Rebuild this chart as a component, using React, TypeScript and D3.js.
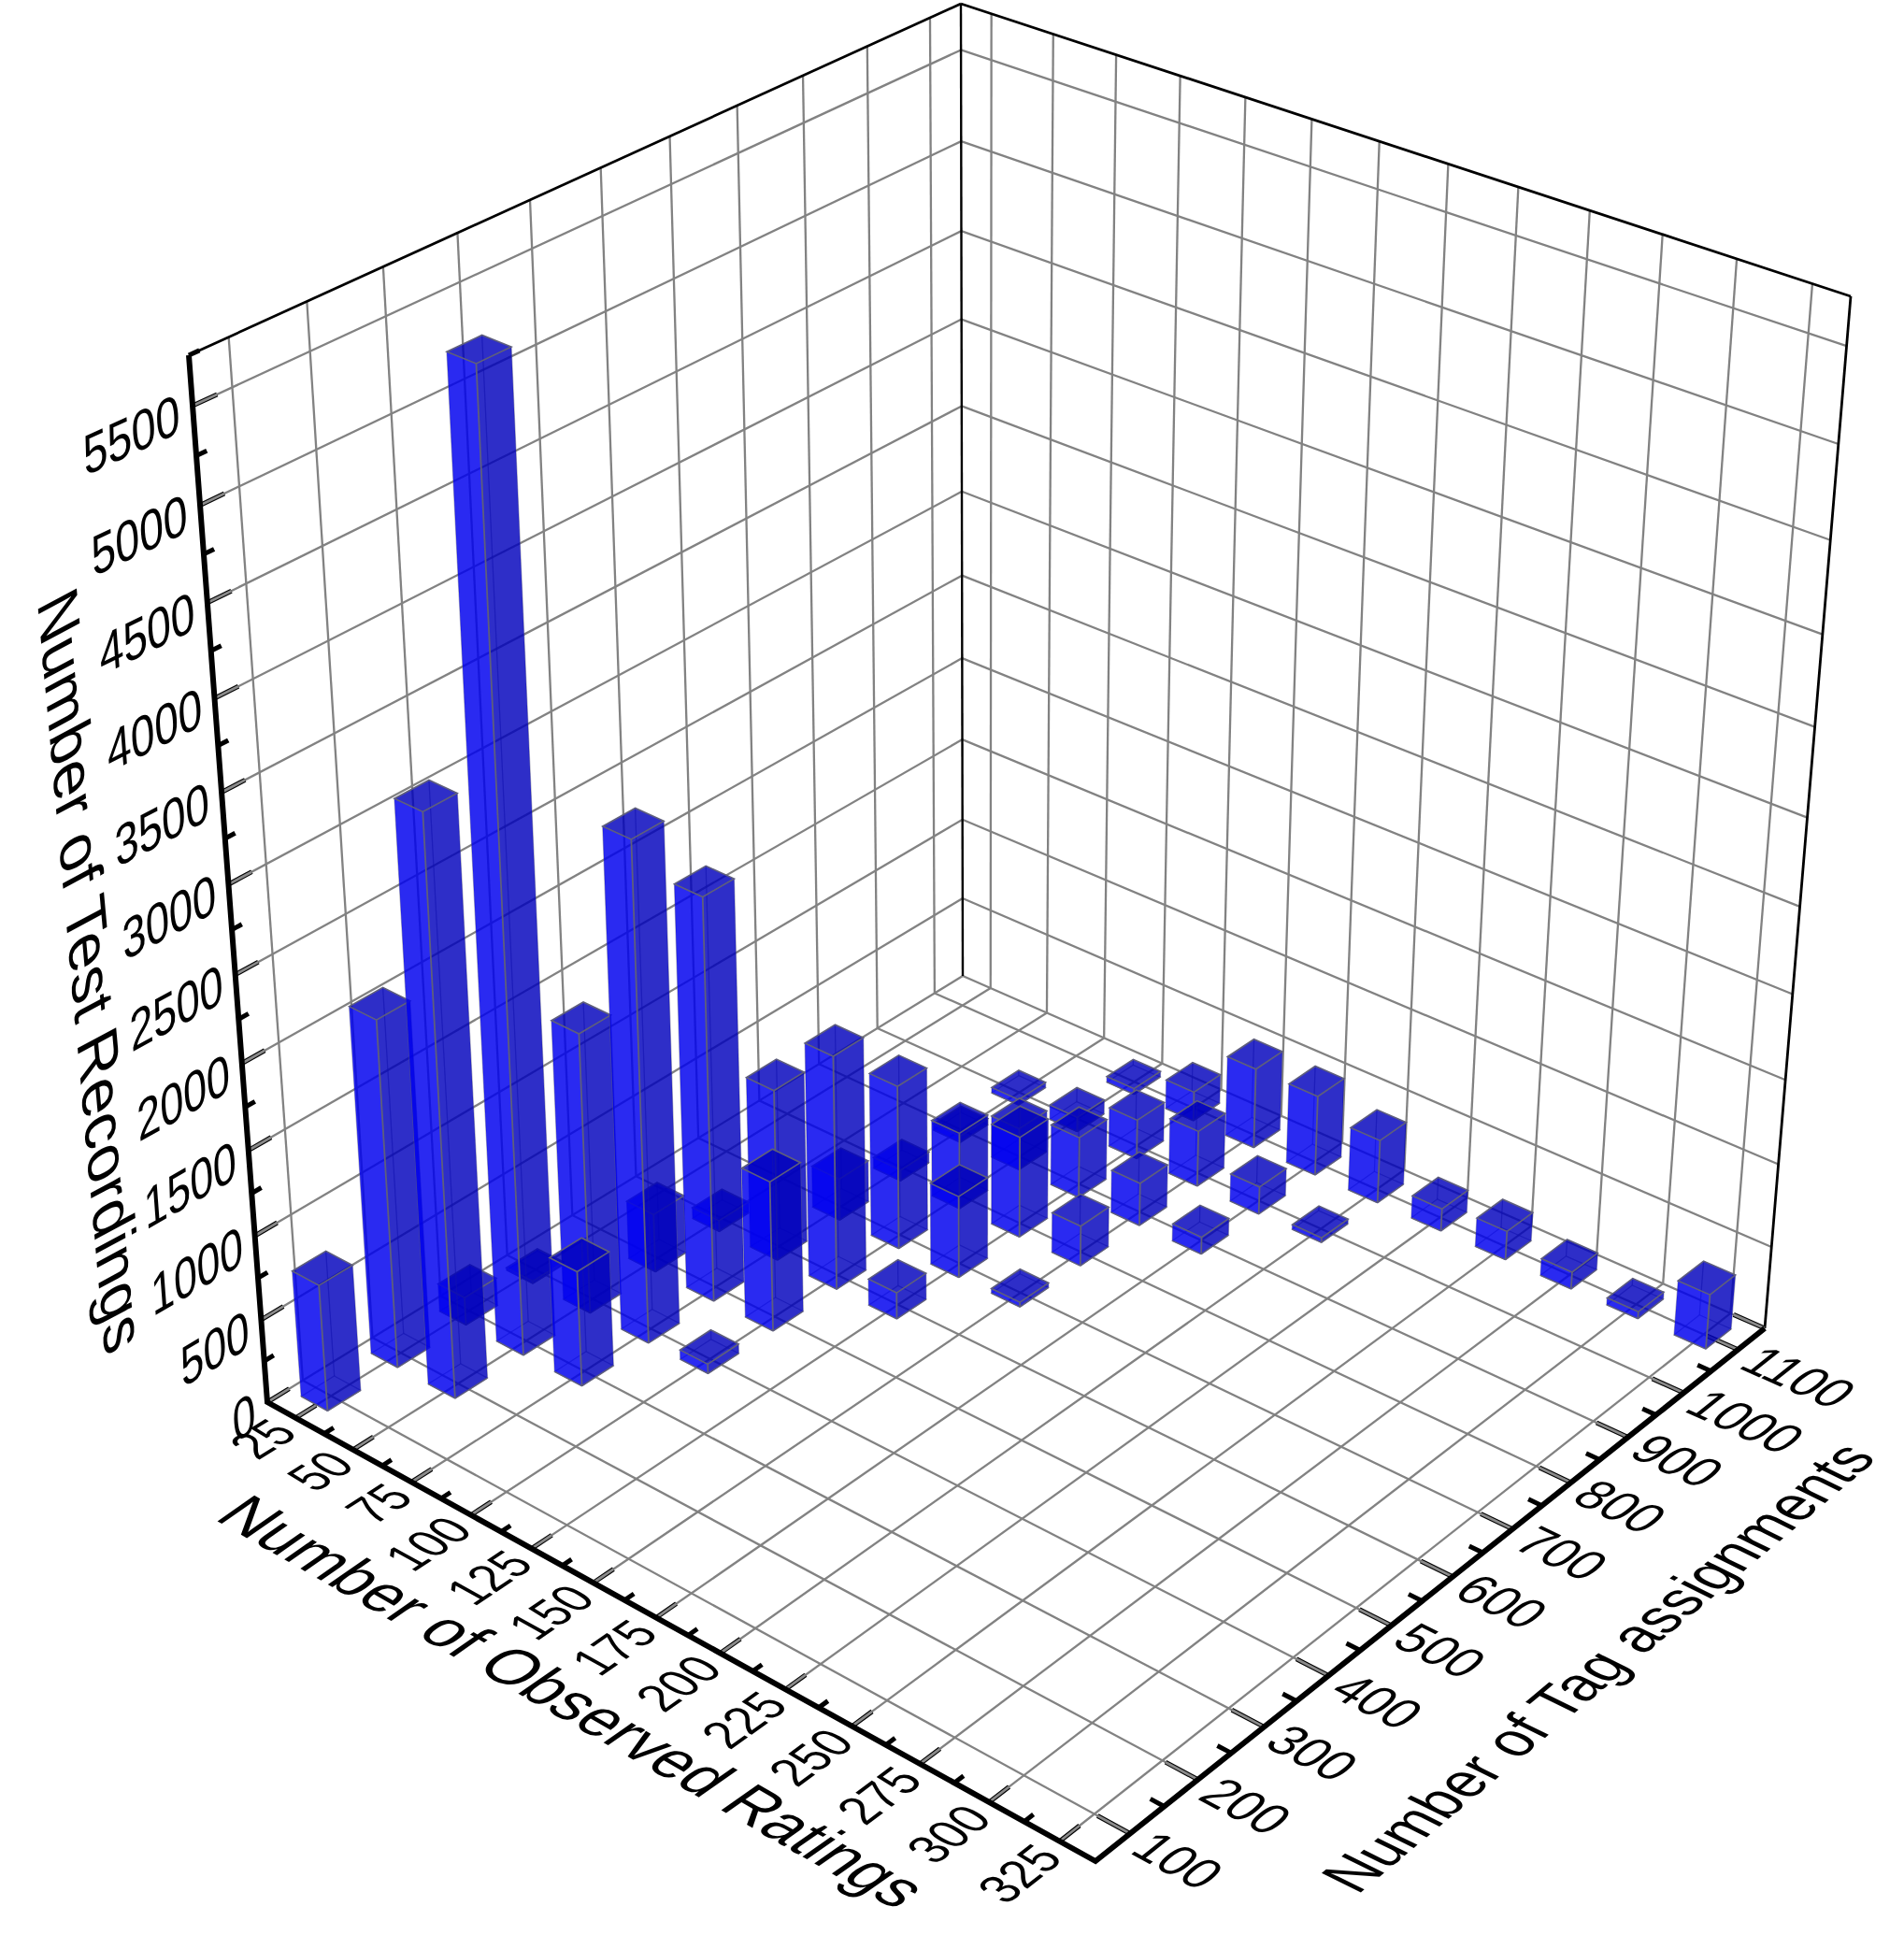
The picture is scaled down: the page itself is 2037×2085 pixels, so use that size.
import React from 'react';
import * as d3 from 'd3';

// bars
const barRatings = [25, 25, 25, 25, 50, 50, 50, 50, 50, 75, 75, 75, 75, 75, 75, 75, 75,
  100, 100, 100, 100, 100, 100, 100, 100, 125, 125, 125, 125, 125, 125,
  150, 150, 150, 150, 150, 175, 175, 175, 200, 200, 225, 250, 275, 300, 325];
const barTags = [100, 200, 300, 400, 200, 300, 400, 500, 600, 300, 400, 500, 600, 700, 800, 900, 1000,
  400, 500, 600, 700, 800, 900, 1000, 1100, 600, 700, 800, 900, 1000, 1100,
  700, 800, 900, 1000, 1100, 900, 1000, 1100, 1000, 1100, 1100, 1100, 1100, 1100, 1100];
const barCounts = [757, 2059, 168, 14, 3377, 5515, 1679, 354, 67, 692, 2948, 2404, 1039, 255, 67, 40, 34,
  58, 907, 1413, 996, 470, 258, 90, 36, 161, 499, 617, 373, 242, 181,
  29, 246, 263, 343, 494, 105, 170, 492, 29, 389, 138, 176, 104, 43, 333];

const ratingTicks = d3.range(25, 326, 25);
const tagTicks = d3.range(100, 1101, 100);
const countTicks = d3.range(0, 5501, 500);

const ratingTitle = 'Number of Observed Ratings';
const tagTitle = 'Number of Tag assignments';
const countTitle = 'Number of Test Recordings';

const uScale = d3.scaleLinear().domain([12.5, 337.5]).range([0, 1]);
const vScale = d3.scaleLinear().domain([50, 1150]).range([0, 1]);
const wScale = d3.scaleLinear().domain([0, 5750]).range([0, 1]);

type Pt = [number, number];
type P3 = [number, number, number];

// where the corners of the box land on the page
const floorCorners: Pt[] = [[286, 1500], [1172, 1991], [1888, 1421], [1030, 1044]];
const topCorners: { at: Pt; xy: Pt }[] = [
  { at: [0, 0], xy: [202, 380] },
  { at: [0, 1], xy: [1028, 4] },
  { at: [1, 1], xy: [1980, 317] },
];

// perspective camera fitted from the corners
function fitCamera() {
  const [[x0, y0], [x1, y1], [x2, y2], [x3, y3]] = floorCorners;
  const dx1 = x1 - x2, dx2 = x3 - x2, sx = x0 - x1 + x2 - x3;
  const dy1 = y1 - y2, dy2 = y3 - y2, sy = y0 - y1 + y2 - y3;
  const det = dx1 * dy2 - dx2 * dy1;
  const g = (sx * dy2 - dx2 * sy) / det;
  const h = (dx1 * sy - sx * dy1) / det;
  const a = x1 - x0 + g * x1, b = x3 - x0 + h * x3;
  const d = y1 - y0 + g * y1, e = y3 - y0 + h * y3;
  const rows = topCorners.map(({ at: [s, t], xy: [X, Y] }) => {
    const W = g * s + h * t + 1;
    return { X, Y, ax: X * W - (a * s + b * t + x0), ay: Y * W - (d * s + e * t + y0) };
  });
  const mX = d3.mean(rows, r => r.X)!, mY = d3.mean(rows, r => r.Y)!;
  const mAx = d3.mean(rows, r => r.ax)!, mAy = d3.mean(rows, r => r.ay)!;
  const r = -d3.sum(rows, o => (o.X - mX) * (o.ax - mAx) + (o.Y - mY) * (o.ay - mAy)) /
    d3.sum(rows, o => (o.X - mX) ** 2 + (o.Y - mY) ** 2);
  const p = mAx + mX * r, q = mAy + mY * r;
  const raw = ([s, t, w]: P3): Pt => {
    const W = g * s + h * t + r * w + 1;
    return [(a * s + b * t + p * w + x0) / W, (d * s + e * t + q * w + y0) / W];
  };
  // what is left over at the three top corners is spread across the box
  const miss = topCorners.map(({ at: [s, t], xy }) => {
    const q0 = raw([s, t, 1]);
    return [xy[0] - q0[0], xy[1] - q0[1]];
  });
  return ([s, t, w]: P3): Pt => {
    const q0 = raw([s, t, w]);
    const fix = (k: number) => miss[0][k] + s * (miss[2][k] - miss[1][k]) + t * (miss[1][k] - miss[0][k]);
    return [q0[0] + w * fix(0), q0[1] + w * fix(1)];
  };
}
const project = fitCamera();

const poly = d3.line();
const face = (pts: P3[]) => poly(pts.map(project))! + 'Z';
const seg = (a: P3, b: P3) => poly([project(a), project(b)])!;

const GRID = '#828282';
const FONT = "'Liberation Sans', Arial, sans-serif";

function unit(a: P3, dir: P3): Pt {
  const eps = 0.01;
  const p0 = project(a);
  const p1 = project([a[0] + dir[0] * eps, a[1] + dir[1] * eps, a[2] + dir[2] * eps]);
  const len = Math.hypot(p1[0] - p0[0], p1[1] - p0[1]);
  return [(p1[0] - p0[0]) / len, (p1[1] - p0[1]) / len];
}

// text lying in one of the box planes
const PlaneText = ({ text, at, xDir, upDir, emX, emY, anchor, dx = 0, dy = 36 }: {
  text: string; at: P3; xDir: P3; upDir: P3; emX: number; emY: number; anchor: string; dx?: number; dy?: number;
}) => {
  const [px, py] = project(at);
  const e1 = unit(at, xDir), e2 = unit(at, upDir);
  const m = [e1[0] * emX / 100, e1[1] * emX / 100, -e2[0] * emY / 100, -e2[1] * emY / 100, px, py];
  return (
    <text transform={`matrix(${m.join(',')})`} x={dx} y={dy} fontSize={100} fontFamily={FONT}
      textAnchor={anchor} fill="#000">{text}</text>
  );
};

const Tick = ({ a, b, major }: { a: P3; b: P3; major: boolean }) => (
  <g>
    <path d={seg(a, b)} stroke="#000" strokeWidth={5} fill="none" />
    {major && <path d={seg(a, b)} stroke="#8a8a8a" strokeWidth={2.8} fill="none" />}
  </g>
);

const Bar = ({ rating, tag, count }: { rating: number; tag: number; count: number }) => {
  const halfU = 5.8, halfV = 23.5;
  // bars sit a touch off the grid crossings in the source
  const u0 = uScale(rating - 1 - halfU), u1 = uScale(rating - 1 + halfU);
  const v0 = vScale(tag + 3 - halfV), v1 = vScale(tag + 3 + halfV);
  const w = wScale(count);
  const edge = '#5e5e7c';
  return (
    <g>
      <path d={face([[u0, v1, 0], [u1, v1, 0], [u1, v0, 0], [u0, v0, 0]])} fill="none" stroke={edge} strokeWidth={1.3} strokeOpacity={0.6} />
      <path d={seg([u0, v1, 0], [u0, v1, w])} stroke={edge} strokeWidth={1.3} strokeOpacity={0.6} />
      <path d={seg([u0, v0, 0], [u0, v0, w])} stroke={edge} strokeWidth={1.3} strokeOpacity={0.5} />
      <path d={seg([u1, v1, 0], [u1, v1, w])} stroke={edge} strokeWidth={1.3} strokeOpacity={0.5} />
      <path d={face([[u0, v0, 0], [u1, v0, 0], [u1, v0, w], [u0, v0, w]])} fill="rgb(0,0,238)" fillOpacity={0.835} />
      <path d={face([[u1, v0, 0], [u1, v1, 0], [u1, v1, w], [u1, v0, w]])} fill="rgb(0,0,188)" fillOpacity={0.82} />
      <path d={face([[u0, v0, w], [u1, v0, w], [u1, v1, w], [u0, v1, w]])} fill="rgb(0,0,188)" fillOpacity={0.82} stroke={edge} strokeWidth={1.6} />
      <path d={seg([u1, v0, 0], [u1, v0, w])} stroke={edge} strokeWidth={1.8} />
      <path d={seg([u0, v0, 0], [u1, v0, 0])} stroke={edge} strokeWidth={1.4} />
      <path d={seg([u1, v0, 0], [u1, v1, 0])} stroke={edge} strokeWidth={1.4} />
    </g>
  );
};

export default function App() {
  const bars = d3.range(barRatings.length)
    .map(i => ({ rating: barRatings[i], tag: barTags[i], count: barCounts[i] }))
    .sort((a, b) => (a.rating - b.rating) || (b.tag - a.tag));

  const minorRatings = d3.range(37.5, 326, 25);
  const minorTags = d3.range(150, 1101, 100);
  const minorCounts = d3.range(250, 5751, 500);

  const gridLines: string[] = [];
  ratingTicks.forEach(r => {
    const u = uScale(r);
    gridLines.push(seg([u, 0, 0], [u, 1, 0]), seg([u, 1, 0], [u, 1, 1]));
  });
  tagTicks.forEach(t => {
    const v = vScale(t);
    gridLines.push(seg([0, v, 0], [1, v, 0]), seg([0, v, 0], [0, v, 1]));
  });
  countTicks.forEach(c => {
    const w = wScale(c);
    gridLines.push(seg([0, 0, w], [0, 1, w]), seg([0, 1, w], [1, 1, w]));
  });

  return (
    <svg width={2037} height={2085} viewBox="0 0 2037 2085"
      style={{ position: 'absolute', left: 0, top: 0, display: 'block', background: '#fff' }}>
      {/* walls and floor */}
      {gridLines.map((d, i) => <path key={i} d={d} stroke={GRID} strokeWidth={2.3} fill="none" />)}
      <path d={seg([0, 0, 1], [0, 1, 1])} stroke="#000" strokeWidth={2.8} />
      <path d={seg([0, 1, 1], [1, 1, 1])} stroke="#000" strokeWidth={2.8} />
      <path d={seg([1, 1, 0], [1, 1, 1])} stroke="#000" strokeWidth={2.8} />
      <path d={seg([0, 1, 0], [0, 1, 1])} stroke="#000" strokeWidth={2.4} />

      {/* ticks */}
      {ratingTicks.map(r => <Tick key={r} major a={[uScale(r), 0, 0]} b={[uScale(r), 0.026, 0]} />)}
      {minorRatings.map(r => <Tick key={r} major={false} a={[uScale(r), 0, 0]} b={[uScale(r), 0.012, 0]} />)}
      {[...tagTicks, 1150].map(t => <Tick key={t} major a={[1, vScale(t), 0]} b={[0.965, vScale(t), 0]} />)}
      {minorTags.map(t => <Tick key={t} major={false} a={[1, vScale(t), 0]} b={[0.985, vScale(t), 0]} />)}
      {countTicks.map(c => <Tick key={c} major a={[0, 0, wScale(c)]} b={[0, 0.028, wScale(c)]} />)}
      {minorCounts.map(c => <Tick key={c} major={false} a={[0, 0, wScale(c)]} b={[0, 0.012, wScale(c)]} />)}

      {/* main axes */}
      <path d={poly([project([0, 0, 1]), project([0, 0, 0]), project([1, 0, 0]), project([1, 1, 0])])!}
        stroke="#000" strokeWidth={6} fill="none" strokeLinejoin="miter" />

      {bars.map(b => <Bar key={`${b.rating}-${b.tag}`} {...b} />)}

      {/* tick labels */}
      {countTicks.map(c => (
        <PlaneText key={c} text={String(c)} at={[0, 0, wScale(c)]} xDir={[0, 1, 0]} upDir={[0, 0, 1]}
          emX={51} emY={60} anchor="end" dx={-30} />
      ))}
      {ratingTicks.map(r => (
        <PlaneText key={r} text={String(r)} at={[uScale(r), 0, 0]} xDir={[0, 1, 0]} upDir={[-1, 0, 0]}
          emX={48} emY={56} anchor="end" dx={-32} />
      ))}
      {tagTicks.map(t => (
        <PlaneText key={t} text={String(t)} at={[1, vScale(t), 0]} xDir={[1, 0, 0]} upDir={[0, 1, 0]}
          emX={52} emY={56} anchor="start" dx={30} />
      ))}

      {/* axis titles */}
      <PlaneText text={ratingTitle} at={[0.525, -0.13, 0]} xDir={[1, 0, 0]} upDir={[0, 1, 0]} emX={65} emY={70} anchor="middle" />
      <PlaneText text={tagTitle} at={[1.17, 0.478, 0]} xDir={[0, 1, 0]} upDir={[-1, 0, 0]} emX={58.5} emY={68} anchor="middle" />
      <PlaneText text={countTitle} at={[0, -0.162, 0.51]} xDir={[0, 0, -1]} upDir={[0, 1, 0]} emX={67} emY={68} anchor="middle" />
    </svg>
  );
}
